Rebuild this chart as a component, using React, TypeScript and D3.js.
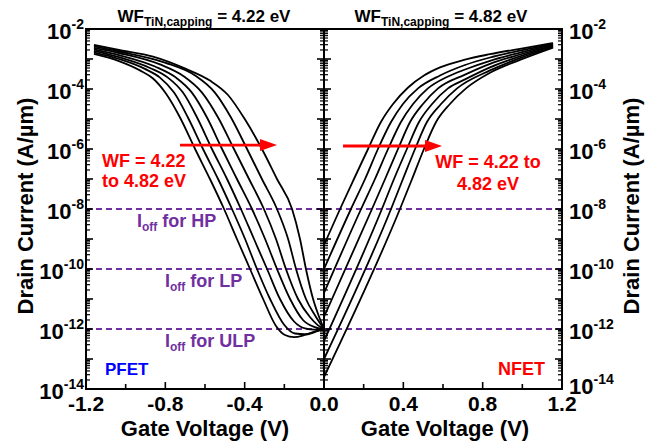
import React, { useEffect, useRef } from 'react';
import * as d3 from 'd3';

// PFET Id-Vg curves, one per TiN capping work function.
// points are [gate voltage (V), log10 of drain current (A/um)]
const pfet422: [number, number][] = [[-1.16, -2.83], [-1.034, -3.07], [-0.928, -3.38], [-0.862, -3.65], [-0.797, -4.15], [-0.726, -4.95], [-0.650, -6.0], [-0.575, -7.0], [-0.504, -8.0], [-0.439, -9.0], [-0.373, -10.0], [-0.307, -11.0], [-0.242, -11.9], [-0.197, -12.2], [-0.151, -12.27], [-0.096, -12.2], [-0.045, -12.1], [0, -12.0]];
const pfet432: [number, number][] = [[-1.16, -2.78], [-1.034, -3.00], [-0.903, -3.33], [-0.827, -3.62], [-0.756, -4.12], [-0.686, -4.95], [-0.610, -6.0], [-0.534, -7.0], [-0.464, -8.0], [-0.398, -9.0], [-0.338, -10.0], [-0.272, -11.0], [-0.202, -11.85], [-0.146, -12.15], [-0.096, -12.17], [-0.045, -12.08], [0, -12.0]];
const pfet442: [number, number][] = [[-1.16, -2.73], [-1.034, -2.94], [-0.877, -3.30], [-0.787, -3.62], [-0.711, -4.12], [-0.640, -4.95], [-0.565, -6.0], [-0.489, -7.0], [-0.419, -8.0], [-0.353, -9.0], [-0.287, -10.0], [-0.222, -11.0], [-0.151, -11.75], [-0.096, -11.98], [-0.045, -12.02], [0, -12.0]];
const pfet452: [number, number][] = [[-1.16, -2.68], [-1.034, -2.87], [-0.852, -3.25], [-0.746, -3.62], [-0.666, -4.12], [-0.590, -4.95], [-0.514, -6.0], [-0.439, -7.0], [-0.363, -8.0], [-0.297, -9.0], [-0.237, -10.0], [-0.171, -11.0], [-0.106, -11.7], [-0.050, -11.93], [0, -12.0]];
const pfet462: [number, number][] = [[-1.16, -2.63], [-1.034, -2.80], [-0.827, -3.18], [-0.706, -3.58], [-0.615, -4.12], [-0.534, -4.95], [-0.454, -6.0], [-0.378, -7.0], [-0.303, -8.0], [-0.242, -9.0], [-0.192, -10.0], [-0.131, -11.0], [-0.071, -11.6], [-0.030, -11.88], [0, -12.0]];
const pfet472: [number, number][] = [[-1.16, -2.58], [-1.034, -2.75], [-0.802, -3.12], [-0.650, -3.55], [-0.550, -4.12], [-0.469, -4.95], [-0.388, -6.0], [-0.313, -7.0], [-0.237, -8.0], [-0.181, -9.0], [-0.141, -10.0], [-0.091, -11.0], [-0.045, -11.55], [0, -12.0]];
const pfet482: [number, number][] = [[-1.16, -2.53], [-1.034, -2.70], [-0.862, -2.92], [-0.696, -3.33], [-0.575, -3.72], [-0.484, -4.2], [-0.398, -5.02], [-0.313, -6.0], [-0.237, -7.0], [-0.161, -8.0], [-0.121, -9.0], [-0.091, -10.0], [-0.055, -11.0], [-0.030, -11.5], [0, -12.0]];

// NFET Id-Vg curves
const nfet422: [number, number][] = [[0, -9.2], [0.081, -8], [0.151, -7], [0.222, -6], [0.287, -5.1], [0.348, -4.5], [0.424, -3.95], [0.504, -3.55], [0.585, -3.28], [0.711, -3.02], [0.837, -2.84], [0.988, -2.66], [1.155, -2.47]];
const nfet432: [number, number][] = [[0, -10.0], [0.136, -8], [0.207, -7], [0.272, -6], [0.338, -5.1], [0.398, -4.5], [0.474, -3.98], [0.585, -3.55], [0.711, -3.2], [0.837, -2.95], [0.988, -2.72], [1.155, -2.50]];
const nfet442: [number, number][] = [[0, -10.8], [0.187, -8], [0.257, -7], [0.323, -6], [0.388, -5.1], [0.449, -4.5], [0.524, -3.98], [0.620, -3.6], [0.711, -3.35], [0.837, -3.06], [0.988, -2.79], [1.155, -2.52]];
const nfet452: [number, number][] = [[0, -11.6], [0.242, -8], [0.308, -7], [0.373, -6], [0.434, -5.1], [0.499, -4.5], [0.575, -3.98], [0.711, -3.52], [0.837, -3.16], [0.988, -2.85], [1.155, -2.55]];
const nfet462: [number, number][] = [[0, -12.4], [0.292, -8], [0.353, -7], [0.418, -6], [0.479, -5.1], [0.545, -4.5], [0.625, -3.98], [0.711, -3.68], [0.837, -3.28], [0.988, -2.91], [1.155, -2.57]];
const nfet472: [number, number][] = [[0, -13.0], [0.338, -8], [0.398, -7], [0.459, -6], [0.519, -5.1], [0.590, -4.5], [0.671, -3.98], [0.837, -3.38], [0.988, -2.97], [1.155, -2.60]];
const nfet482: [number, number][] = [[0, -13.6], [0.383, -8], [0.444, -7], [0.504, -6], [0.565, -5.1], [0.635, -4.5], [0.716, -3.98], [0.837, -3.46], [0.988, -3.03], [1.155, -2.62]];

const pfetCurves = [pfet422, pfet432, pfet442, pfet452, pfet462, pfet472, pfet482];
const nfetCurves = [nfet422, nfet432, nfet442, nfet452, nfet462, nfet472, nfet482];

const pfetXTicks = [-1.2, -0.8, -0.4, 0.0];
const pfetXMinor = [-1.0, -0.6, -0.2];
const nfetXTicks = [0.4, 0.8, 1.2];
const nfetXMinor = [0.2, 0.6, 1.0];
const yLabelExps = [-2, -4, -6, -8, -10, -12, -14];
const ioffExps = [-8, -10, -12];
const ioffNames = ['HP', 'LP', 'ULP'];
const titles = ['4.22', '4.82'];

const FONT = "'Liberation Sans', Arial, Helvetica, sans-serif";
const PURPLE = '#7030A0';
const RED = '#FF0000';

export default function App() {
  const ref = useRef<SVGSVGElement>(null);

  useEffect(() => {
    const svg = d3.select(ref.current);
    svg.selectAll('*').remove();

    const top = 29, bottom = 389, left = 86, mid = 324, right = 562;
    const xP = d3.scaleLinear().domain([-1.2, 0]).range([left, mid]);
    const xN = d3.scaleLinear().domain([0, 1.2]).range([mid, right]);
    const y = d3.scaleLog().domain([1e-14, 1e-2]).range([bottom, top]);

    const g = svg.append('g').attr('font-family', FONT).attr('font-weight', 'bold');

    // Ioff reference lines
    g.selectAll('line.ioff')
      .data(ioffExps)
      .enter().append('line')
      .attr('x1', left).attr('x2', right)
      .attr('y1', d => y(10 ** d)).attr('y2', d => y(10 ** d))
      .attr('stroke', PURPLE).attr('stroke-width', 2)
      .attr('stroke-dasharray', '6,4');

    // curves
    const lineP = d3.line<[number, number]>()
      .x(d => xP(d[0])).y(d => y(10 ** d[1]))
      .curve(d3.curveMonotoneX);
    const lineN = d3.line<[number, number]>()
      .x(d => xN(d[0])).y(d => y(10 ** d[1]))
      .curve(d3.curveMonotoneX);

    g.selectAll('path.pfet')
      .data(pfetCurves)
      .enter().append('path')
      .attr('d', d => lineP(d))
      .attr('fill', 'none').attr('stroke', '#000').attr('stroke-width', 1.8);
    g.selectAll('path.nfet')
      .data(nfetCurves)
      .enter().append('path')
      .attr('d', d => lineN(d))
      .attr('fill', 'none').attr('stroke', '#000').attr('stroke-width', 1.8);

    // frames
    [left, mid].forEach(x0 => {
      g.append('rect')
        .attr('x', x0).attr('y', top)
        .attr('width', mid - left).attr('height', bottom - top)
        .attr('fill', 'none').attr('stroke', '#000').attr('stroke-width', 2);
    });

    // y ticks, inward on every vertical edge
    const major: number[] = [];
    const minor: number[] = [];
    for (let e = -14; e <= -2; e++) {
      major.push(10 ** e);
      if (e < -2) for (let m = 2; m <= 9; m++) minor.push(m * 10 ** e);
    }
    const edges = [{ x: left, dir: 1 }, { x: mid, dir: -1 }, { x: mid, dir: 1 }, { x: right, dir: -1 }];
    edges.forEach(({ x, dir }) => {
      g.selectAll(null).data(major).enter().append('line')
        .attr('x1', x).attr('x2', x + dir * 7)
        .attr('y1', d => y(d)).attr('y2', d => y(d))
        .attr('stroke', '#000').attr('stroke-width', 1.6);
      g.selectAll(null).data(minor).enter().append('line')
        .attr('x1', x).attr('x2', x + dir * 4)
        .attr('y1', d => y(d)).attr('y2', d => y(d))
        .attr('stroke', '#000').attr('stroke-width', 1.2);
    });

    // x ticks
    const xTicks = (scale: d3.ScaleLinear<number, number>, vals: number[], len: number) => {
      g.selectAll(null).data(vals).enter().append('line')
        .attr('x1', d => scale(d)).attr('x2', d => scale(d))
        .attr('y1', bottom).attr('y2', bottom - len)
        .attr('stroke', '#000').attr('stroke-width', 1.6);
    };
    xTicks(xP, pfetXTicks, 7);
    xTicks(xP, pfetXMinor, 5);
    xTicks(xN, nfetXTicks, 7);
    xTicks(xN, nfetXMinor, 5);

    // x tick labels
    g.selectAll(null).data(pfetXTicks).enter().append('text')
      .attr('x', d => xP(d)).attr('y', 411)
      .attr('text-anchor', 'middle').attr('font-size', 21)
      .text(d => d.toFixed(1));
    g.selectAll(null).data(nfetXTicks).enter().append('text')
      .attr('x', d => xN(d)).attr('y', 411)
      .attr('text-anchor', 'middle').attr('font-size', 21)
      .text(d => d.toFixed(1));

    // y tick labels both sides (the lowest one on the right sits a little higher)
    const yLab = (x: number, anchor: string, liftBottom: number) => {
      yLabelExps.forEach(e => {
        const t = g.append('text')
          .attr('x', x).attr('y', y(10 ** e) + 10 - (e === -14 ? liftBottom : 0))
          .attr('text-anchor', anchor).attr('font-size', 22);
        t.append('tspan').text('10');
        t.append('tspan').attr('dy', -10).attr('font-size', 14).text(String(e));
      });
    };
    yLab(84, 'end', 0);
    yLab(569, 'start', 5);

    // axis titles
    [205, 445].forEach(cx => {
      g.append('text').attr('x', cx).attr('y', 436)
        .attr('text-anchor', 'middle').attr('font-size', 22)
        .text('Gate Voltage (V)');
    });
    [33, 639].forEach(bx => {
      g.append('text')
        .attr('transform', `translate(${bx},206) rotate(-90)`)
        .attr('text-anchor', 'middle').attr('font-size', 22)
        .text('Drain Current (A/\u00b5m)');
    });

    // panel titles
    [204, 441].forEach((cx, i) => {
      const t = g.append('text').attr('x', cx).attr('y', 22)
        .attr('text-anchor', 'middle').attr('font-size', 17)
        .style('white-space', 'pre');
      t.append('tspan').text('WF');
      t.append('tspan').attr('dy', 4).attr('font-size', 12).text('TiN,capping');
      t.append('tspan').attr('dy', -4).text(` = ${titles[i]} eV`);
    });

    // Ioff labels
    ioffNames.forEach((name, i) => {
      const t = g.append('text')
        .attr('x', i === 0 ? 137 : 165)
        .attr('y', y(10 ** ioffExps[i]) + 18)
        .attr('font-size', 18).attr('fill', PURPLE)
        .style('white-space', 'pre');
      t.append('tspan').text('I');
      t.append('tspan').attr('dy', 4).attr('font-size', 12).text('off');
      t.append('tspan').attr('dy', -4).text(` for ${name}`);
    });

    // device labels
    g.append('text').attr('x', 105).attr('y', 375)
      .attr('font-size', 17).attr('fill', '#0000FF').text('PFET');
    g.append('text').attr('x', 545).attr('y', 375)
      .attr('text-anchor', 'end').attr('font-size', 18).attr('fill', RED).text('NFET');

    // WF sweep annotations
    g.append('text').attr('x', 102).attr('y', 167).attr('font-size', 18).attr('fill', RED).text('WF = 4.22');
    g.append('text').attr('x', 102).attr('y', 187).attr('font-size', 18).attr('fill', RED).text('to 4.82 eV');
    g.append('text').attr('x', 488).attr('y', 168).attr('text-anchor', 'middle').attr('font-size', 18).attr('fill', RED).text('WF = 4.22 to');
    g.append('text').attr('x', 488).attr('y', 190).attr('text-anchor', 'middle').attr('font-size', 18).attr('fill', RED).text('4.82 eV');

    // arrows
    const arrow = (x1: number, x2: number, yy: number) => {
      g.append('line').attr('x1', x1).attr('x2', x2 - 12)
        .attr('y1', yy).attr('y2', yy)
        .attr('stroke', RED).attr('stroke-width', 2.8);
      g.append('path')
        .attr('d', `M${x2},${yy} L${x2 - 17},${yy - 6} L${x2 - 17},${yy + 6} Z`)
        .attr('fill', RED);
    };
    arrow(xP(-0.726), xP(-0.237), y(10 ** -5.87));
    arrow(xN(0.096), xN(0.595), y(10 ** -5.9));
  }, []);

  return (
    <svg ref={ref} width={655} height={448}
      style={{ position: 'absolute', left: 0, top: 0, background: '#fff' }} />
  );
}
